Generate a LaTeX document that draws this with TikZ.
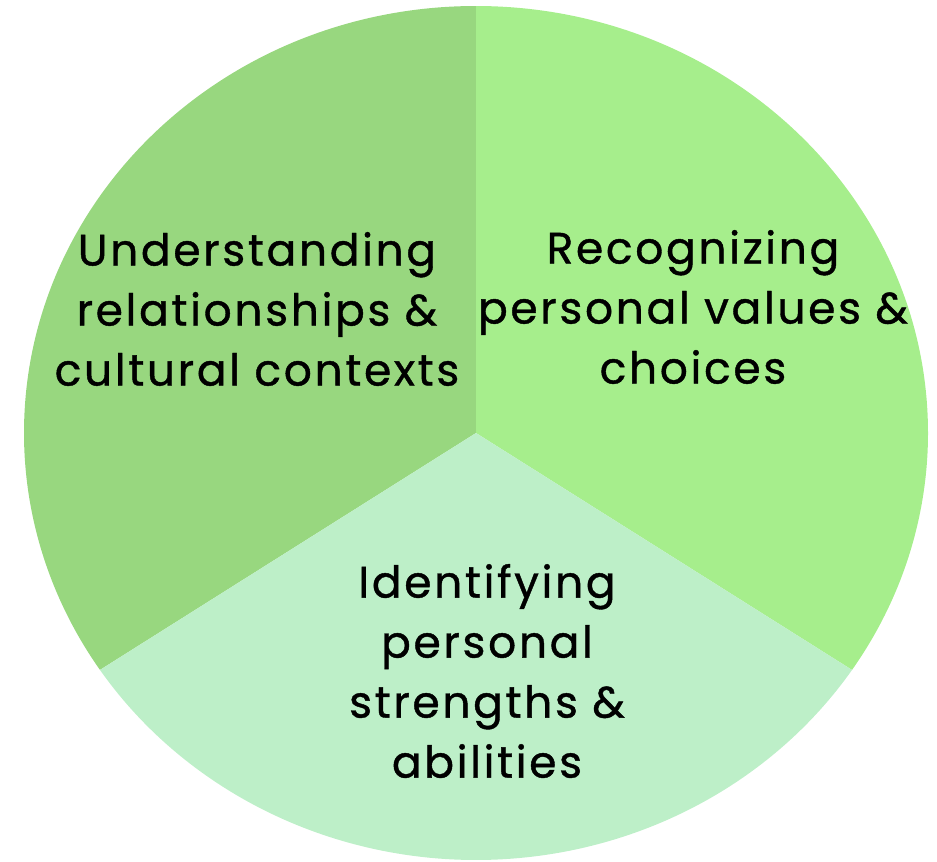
\documentclass[tikz,border=0pt]{standalone}
\usepackage{fontspec}
\usetikzlibrary{calc}
\setmainfont{Poppins}[LetterSpace=6,FakeBold=0.9]
\definecolor{secL}{RGB}{152,215,127}
\definecolor{secR}{RGB}{166,238,140}
\definecolor{secB}{RGB}{189,239,200}
\tikzset{
  lbl/.style={align=center, inner sep=0pt, text=black,
    font=\fontsize{44}{60}\selectfont},
  arcopt/.style={x radius=452pt, y radius=427pt}
}
\begin{document}
\begin{tikzpicture}[x=1pt,y=1pt]
\useasboundingbox (0,0) rectangle (937,-862);
\coordinate (C) at (476,-433);
\coordinate (T) at (476,-6);
\coordinate (BL) at ($(C)+(213.7:452pt and 427pt)$);
\fill[secL] (C) -- (T) arc[start angle=90, end angle=213.7, arcopt] -- cycle;
\fill[secR] (C) -- (T) arc[start angle=90, end angle=-33.7, arcopt] -- cycle;
\fill[secB] (C) -- (BL) arc[start angle=213.7, end angle=326.3, arcopt] -- cycle;
\node[lbl] (left) at (257,-309) {Understanding\\relationships \&\\cultural contexts};
\node[lbl] (right) at (693,-307) {Recognizing\\personal values \&\\choices};
\node[lbl] (bottom) at (487,-671) {Identifying\\personal\\strengths \&\\abilities};
\end{tikzpicture}
\end{document}
